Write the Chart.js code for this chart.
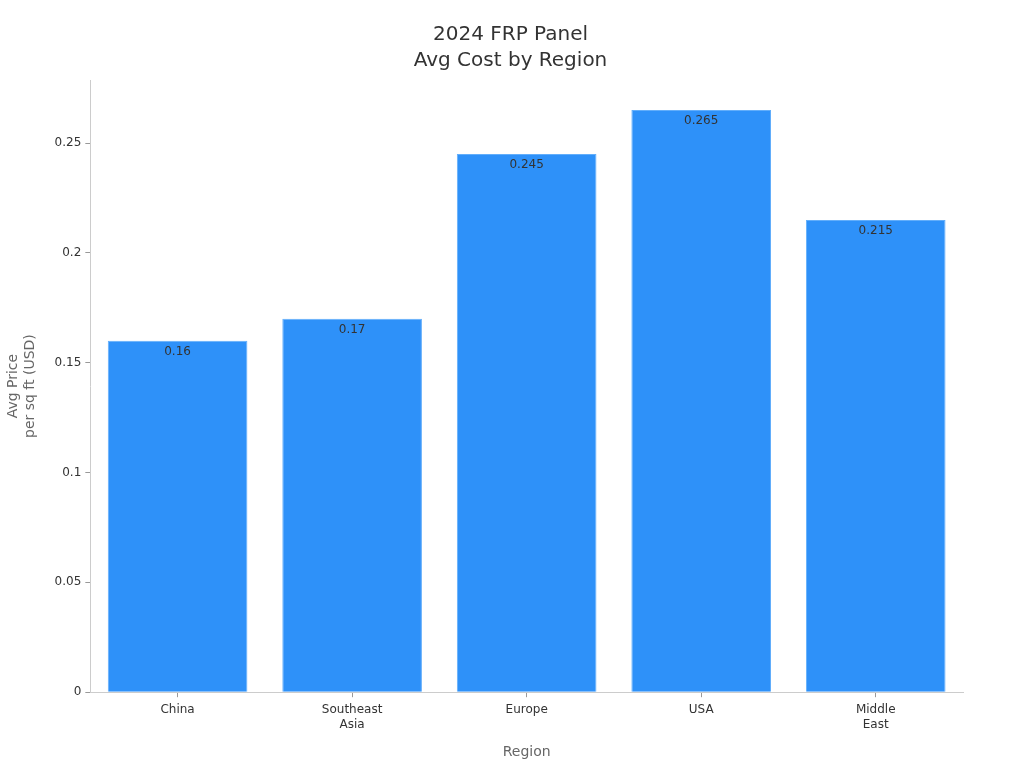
<!DOCTYPE html>
<html>
<head>
<meta charset="utf-8">
<script src="https://cdn.jsdelivr.net/npm/chart.js@4"></script>
<style>
  html, body { margin: 0; padding: 0; background: #fff; }
  #wrap { width: 1024px; height: 768px; }
</style>
</head>
<body>
<div id="wrap"><canvas id="chart"></canvas></div>
<script>
const regions = [['China'], ['Southeast', 'Asia'], ['Europe'], ['USA'], ['Middle', 'East']];
const avgPrice = [0.16, 0.17, 0.245, 0.265, 0.215];
const valueLabels = ['0.16', '0.17', '0.245', '0.265', '0.215'];
const yTicks = [0, 0.05, 0.1, 0.15, 0.2, 0.25];

const barLabels = {
  id: 'barLabels',
  afterDatasetsDraw(chart) {
    const ctx = chart.ctx;
    const meta = chart.getDatasetMeta(0);
    ctx.save();
    ctx.font = '12px "DejaVu Sans"';
    ctx.fillStyle = '#333';
    ctx.textAlign = 'center';
    ctx.textBaseline = 'middle';
    meta.data.forEach((bar, i) => {
      ctx.fillText(valueLabels[i], bar.x, bar.y + 11);
    });
    ctx.restore();
  }
};

new Chart(document.getElementById('chart'), {
  type: 'bar',
  data: {
    labels: regions,
    datasets: [{
      data: avgPrice,
      backgroundColor: '#2E91F9',
      borderColor: '#62AEFB',
      borderWidth: 1,
      barPercentage: 0.8,
      categoryPercentage: 1.0
    }]
  },
  options: {
    responsive: true,
    maintainAspectRatio: false,
    animation: false,
    layout: { padding: { left: 1, right: 4, top: 12, bottom: 3 } },
    plugins: {
      legend: { display: false },
      tooltip: { enabled: false },
      title: {
        display: true,
        text: ['2024 FRP Panel', 'Avg Cost by Region'],
        color: '#333',
        font: { family: 'DejaVu Sans', size: 20, weight: 'normal', lineHeight: 1.3 },
        padding: { top: 10, bottom: 6 }
      }
    },
    scales: {
      x: {
        grid: { display: true, drawOnChartArea: false, offset: false, tickLength: 5, color: '#999' },
        border: { color: '#ccc' },
        ticks: { color: '#333', font: { family: 'DejaVu Sans', size: 12, lineHeight: 1.25 }, padding: 5 },
        title: {
          display: true, text: 'Region', color: '#666',
          font: { family: 'DejaVu Sans', size: 14 }, padding: { top: 7 }
        }
      },
      y: {
        min: 0,
        max: 0.2787,
        afterBuildTicks: scale => { scale.ticks = yTicks.map(v => ({ value: v })); },
        grid: { display: true, drawOnChartArea: false, tickLength: 5, color: '#999' },
        border: { color: '#ccc' },
        ticks: {
          color: '#333',
          font: { family: 'DejaVu Sans', size: 12 }, padding: 4,
          callback: v => String(v)
        },
        title: {
          display: true, text: ['Avg Price', 'per sq ft (USD)'], color: '#666',
          font: { family: 'DejaVu Sans', size: 14, lineHeight: 1.2 }, padding: { bottom: 12 }
        }
      },
      yRight: {
        position: 'right',
        display: true,
        grid: { display: false },
        border: { display: false },
        ticks: { display: false },
        afterFit: scale => { scale.width = 57; }
      }
    }
  },
  plugins: [barLabels]
});
</script>
</body>
</html>
